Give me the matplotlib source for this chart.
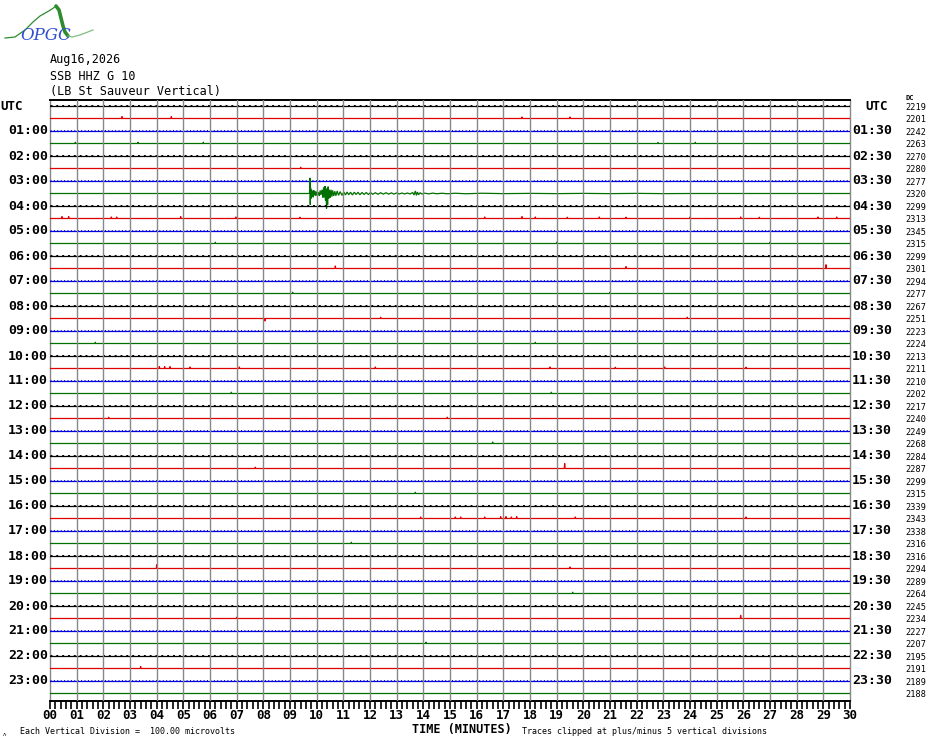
import matplotlib
matplotlib.use("Agg")
import matplotlib.pyplot as plt
import numpy as np

# ---------------- data ----------------
minutes_ticks = list(range(0, 31))
tick_labels = [f"{m:02d}" for m in minutes_ticks]
left_labels = ["UTC"] + [f"{h:02d}:00" for h in range(1, 24)]
right_labels = ["UTC"] + [f"{h:02d}:30" for h in range(1, 24)]
row_counts = [2219, 2201, 2242, 2263, 2270, 2280, 2277, 2320, 2299, 2313,
              2345, 2315, 2299, 2301, 2294, 2277, 2267, 2251, 2223, 2224,
              2213, 2211, 2210, 2202, 2217, 2240, 2249, 2268, 2284, 2287,
              2299, 2315, 2339, 2343, 2338, 2316, 2316, 2294, 2289, 2264,
              2245, 2234, 2227, 2207, 2195, 2191, 2189, 2188]
trace_colors = ["black", "#e00000", "#0000e0", "#007000"]

# isolated spikes: row -> list of (minute, amplitude in divisions, + = up)
spikes = {
    1: [(2.7, 0.15), (4.55, 0.15), (17.7, 0.12), (19.5, 0.12)],
    3: [(0.95, 0.1), (3.3, 0.1), (5.75, 0.1), (22.8, 0.08), (24.2, 0.1)],
    5: [(9.4, 0.1)],
    9: [(0.45, 0.15), (0.7, 0.15), (2.3, 0.12), (2.5, 0.12), (4.9, 0.15),
        (6.97, 0.12), (9.37, 0.1), (16.3, 0.12), (17.7, 0.15), (18.2, 0.12),
        (19.4, 0.1), (20.6, 0.12), (21.6, 0.1), (24.0, 0.12), (25.9, 0.12),
        (26.6, 0.1), (28.8, 0.12), (29.5, 0.12)],
    11: [(6.2, 0.1), (19.0, 0.1), (27.0, 0.1)],
    13: [(10.7, 0.2), (21.6, 0.15), (29.1, 0.3)],
    15: [(9.1, 0.1), (21.0, 0.1)],
    17: [(8.06, -0.2), (12.4, 0.1), (23.9, 0.1)],
    19: [(1.7, 0.1), (18.2, 0.1)],
    21: [(4.1, 0.15), (4.3, 0.15), (4.5, 0.15), (5.25, 0.12), (7.1, 0.12),
         (12.2, 0.12), (18.75, 0.12), (21.2, 0.1), (23.05, 0.12), (26.1, 0.1)],
    23: [(6.8, 0.1), (18.8, 0.1)],
    25: [(2.2, 0.1), (14.9, 0.1)],
    27: [(16.6, 0.12)],
    29: [(19.3, 0.4), (7.7, 0.1)],
    31: [(13.7, 0.1)],
    33: [(13.9, 0.12), (15.2, 0.12), (15.4, 0.12), (16.3, 0.12), (16.9, 0.15),
         (17.1, 0.15), (17.3, 0.12), (17.5, 0.15), (19.7, 0.12), (26.1, 0.12)],
    35: [(11.3, 0.1)],
    37: [(4.0, 0.3), (19.5, 0.12)],
    39: [(19.6, 0.1)],
    41: [(25.9, 0.25), (7.0, 0.1)],
    43: [(14.1, 0.1)],
    45: [(3.4, 0.15)],
}

# earthquake on the 03:30 row (row 7): minute, amplitude (divisions, + = up)
event_row = 7
event_t = [0.0, 9.70, 9.74, 9.75, 9.76, 9.77, 9.79, 9.81, 9.83, 9.85, 9.87,
           9.89, 9.91, 9.94, 9.97, 10.00, 10.03, 10.06, 10.10, 10.13, 10.16,
           10.20, 10.23, 10.26, 10.28, 10.31, 10.33, 10.35, 10.37, 10.39,
           10.41, 10.43, 10.45, 10.48, 10.51, 10.54, 10.57, 10.60, 10.64,
           10.68, 10.72, 10.77, 10.82, 10.88, 10.95, 11.02, 11.08, 11.14,
           11.20, 11.27, 11.34, 11.41, 11.48, 11.55, 11.62, 11.70, 11.78,
           11.86, 11.94, 12.02, 12.10, 12.20, 12.30, 12.40, 12.50, 12.60,
           12.70, 12.80, 12.90, 13.00, 13.10, 13.20, 13.30, 13.40, 13.50,
           13.60, 13.65, 13.70, 13.74, 13.78, 13.82, 13.88, 13.95, 14.05,
           14.20, 14.35, 14.50, 14.70, 14.90, 15.20, 15.60, 16.2, 17.0, 18.0,
           19.0, 20.0, 21.0, 22.0, 23.0, 24.0, 25.0, 30.0]
event_amp = [0.0, 0.0, 0.05, 1.25, -0.9, 0.5, -0.4, 0.3, -0.25, 0.2, -0.3,
             0.25, -0.15, 0.2, -0.2, 0.15, -0.15, 0.1, -0.2, 0.25, -0.1,
             0.3, -0.35, 0.5, -0.3, 0.6, -0.55, 0.35, -1.2, 0.4, -0.9, 0.55,
             -0.4, 0.3, -0.35, 0.3, -0.25, 0.25, -0.2, 0.18, -0.18, 0.2,
             -0.15, 0.15, -0.15, 0.12, -0.12, 0.12, -0.1, 0.1, -0.12, 0.1,
             -0.08, 0.1, -0.1, 0.08, -0.08, 0.08, -0.08, 0.08, -0.06, 0.06,
             -0.06, 0.06, -0.05, 0.06, -0.05, 0.05, -0.05, 0.05, -0.04, 0.04,
             -0.04, 0.04, -0.04, 0.08, -0.12, 0.2, -0.15, 0.12, -0.1, 0.06,
             -0.04, 0.03, -0.03, 0.03, -0.02, 0.02, -0.02, 0.02, -0.02, 0.02,
             -0.01, 0.01, -0.01, 0.01, -0.01, 0.01, -0.01, 0.0, 0.0, 0.0]

# logo outline (pixel coordinates inside the logo box)
logo_x = [5, 15, 25, 33, 40, 47, 52, 56]
logo_y = [38, 37, 30, 22, 16, 12, 9, 6]
logo2_x = [56, 59, 61, 63, 65, 68, 72, 80, 93]
logo2_y = [6, 10, 18, 26, 32, 36, 37, 35, 30]

# ---------------- drawing ----------------
W, H = 930, 744
fig = plt.figure(figsize=(W / 100, H / 100), dpi=100)
fig.patch.set_facecolor("white")
ax = fig.add_axes([50 / W, 43 / H, 800 / W, 601 / H])
n_rows = len(row_counts)
ax.set_xlim(0, 30)
ax.set_ylim(47.6, -0.48)

# vertical minute grid
for m in minutes_ticks[1:-1]:
    ax.axvline(m, color="#888888", lw=1.0, zorder=4)

mono = "DejaVu Sans Mono"
for k in range(n_rows):
    col = trace_colors[k % 4]
    if k == event_row:
        ax.plot(event_t, [k - a for a in event_amp], color=col, lw=0.9,
                zorder=3, solid_joinstyle="miter")
        continue
    xs, ys = [0.0], [float(k)]
    for t, a in sorted(spikes.get(k, [])):
        xs += [t - 0.015, t, t + 0.015]
        ys += [k, k - a, k]
    xs.append(30.0)
    ys.append(float(k))
    ax.plot(xs, ys, color=col, lw=0.9, zorder=3)
    if k % 4 == 0:
        ax.plot([0, 30], [k - 0.05, k - 0.05], color=col, lw=0.7,
                dashes=(2.0, 4.0), zorder=3)
    elif k % 4 == 2:
        ax.plot([0, 30], [k - 0.05, k - 0.05], color=col, lw=0.7,
                dashes=(1.0, 2.5), zorder=3)

# spines / ticks
for s in ("left", "right"):
    ax.spines[s].set_color("#888888")
    ax.spines[s].set_linewidth(1.0)
ax.spines["top"].set_color("black")
ax.spines["top"].set_linewidth(1.4)
ax.spines["bottom"].set_color("black")
ax.spines["bottom"].set_linewidth(1.4)
ax.set_yticks([])
ax.set_xticks(minutes_ticks)
ax.set_xticklabels(tick_labels, fontfamily=mono, fontweight="bold",
                   fontsize=9)
ax.set_xticks(np.arange(0, 30.01, 0.2), minor=True)
ax.tick_params(axis="x", which="both", direction="out", length=5.5,
               width=1.2, color="black", pad=0.5)

# hour labels
for i, lab in enumerate(left_labels):
    k = 2 * i
    if i == 0:
        ax.text(-50 / 800 * 30, k, lab, ha="left", va="center",
                fontfamily=mono, fontweight="bold", fontsize=9)
    else:
        ax.text(-2 / 800 * 30, k, lab, ha="right", va="center",
                fontfamily=mono, fontweight="bold", fontsize=9.5)
for i, lab in enumerate(right_labels):
    k = 2 * i
    if i == 0:
        ax.text(30 + 15 / 800 * 30, k, lab, ha="left", va="center",
                fontfamily=mono, fontweight="bold", fontsize=9)
    else:
        ax.text(30 + 2 / 800 * 30, k, lab, ha="left", va="center",
                fontfamily=mono, fontweight="bold", fontsize=9.5)
for k, v in enumerate(row_counts):
    ax.text(30 + 55 / 800 * 30, k + 0.1, str(v), ha="left", va="center",
            fontfamily=mono, fontsize=6.2)
ax.text(30 + 55 / 800 * 30, -0.62, "DC", ha="left", va="center",
        fontfamily=mono, fontsize=5.0, fontweight="bold")

# header text
fig.text(50 / W, 1 - 60 / H, "Aug16,2026", fontfamily=mono, fontsize=8.5,
         va="center", ha="left")
fig.text(50 / W, 1 - 76 / H, "SSB HHZ G 10", fontfamily=mono, fontsize=8.5,
         va="center", ha="left")
fig.text(50 / W, 1 - 92 / H, "(LB St Sauveur Vertical)", fontfamily=mono,
         fontsize=8.5, va="center", ha="left")

# footer
fig.text(462 / W, 1 - 730 / H, "TIME (MINUTES)", fontfamily=mono,
         fontweight="bold", fontsize=8.5, va="center", ha="center")
fig.text(20 / W, 1 - 731 / H, "Each Vertical Division =  100.00 microvolts",
         fontfamily=mono, fontsize=6.0, va="center", ha="left")
fig.text(522 / W, 1 - 731 / H,
         "Traces clipped at plus/minus 5 vertical divisions",
         fontfamily=mono, fontsize=6.0, va="center", ha="left")
fig.text(3 / W, 1 - 734 / H, "ʌ", fontsize=4, va="center", ha="left")

# logo
lax = fig.add_axes([0, 1 - 45 / H, 100 / W, 45 / H])
lax.set_xlim(0, 100)
lax.set_ylim(45, 0)
lax.axis("off")
lax.plot(logo_x, logo_y, color="#2e8b2e", lw=0.9)
lax.plot(logo2_x[:6], logo2_y[:6], color="#2e8b2e", lw=2.6,
         solid_capstyle="round")
lax.plot(logo2_x[5:], logo2_y[5:], color="#7fbf7f", lw=0.9)
lax.text(46, 35, "OPGC", color="#3050d0", fontsize=12, fontstyle="italic",
         family="DejaVu Serif", ha="center", va="center")

fig.savefig("out.png", dpi=100, facecolor="white")
